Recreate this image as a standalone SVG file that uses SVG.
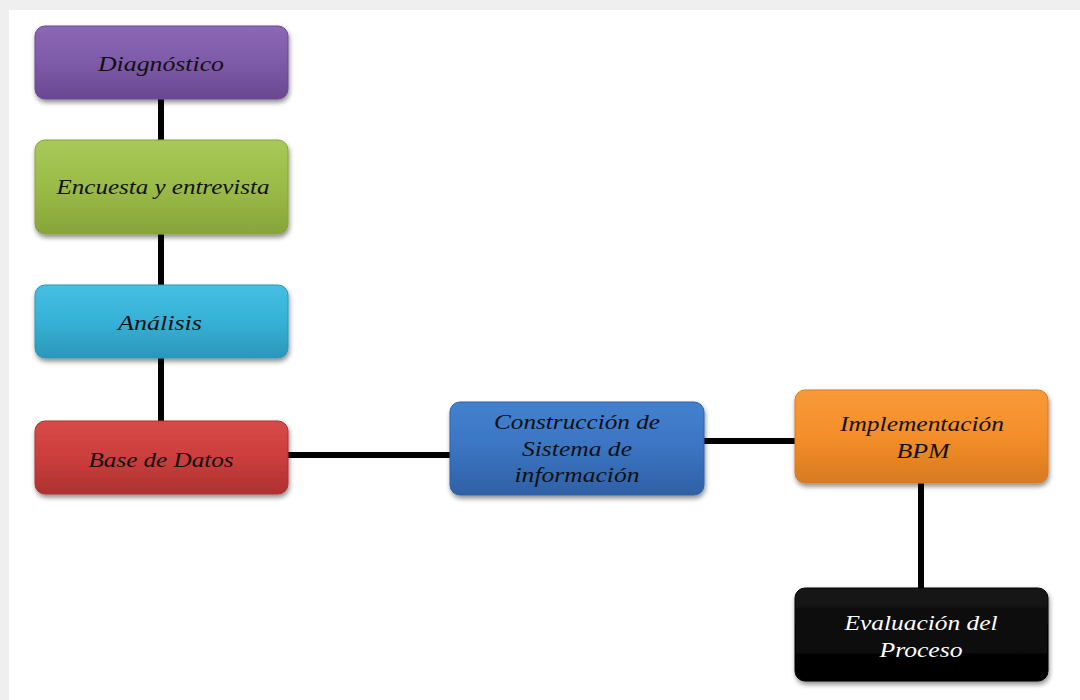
<svg xmlns="http://www.w3.org/2000/svg" width="1080" height="700" viewBox="0 0 1080 700">
<defs>
<style>
.n{stroke-width:1;filter:url(#sh)}
.t{font-family:"Liberation Serif","DejaVu Serif",serif;font-style:italic;font-size:21px;fill:#111;text-anchor:middle}
.w{fill:#fff}
.c{stroke:#000;stroke-width:6;fill:none}
</style>
<filter id="sh" x="-10%" y="-20%" width="120%" height="150%">
<feGaussianBlur in="SourceAlpha" stdDeviation="2.5"/>
<feOffset dx="1" dy="3" result="b"/>
<feComponentTransfer><feFuncA type="linear" slope="0.45"/></feComponentTransfer>
<feMerge><feMergeNode/><feMergeNode in="SourceGraphic"/></feMerge>
</filter>
<linearGradient id="gp" x1="0" y1="0" x2="0" y2="1"><stop offset="0" stop-color="#8b68b6"/><stop offset="0.5" stop-color="#7e5aa8"/><stop offset="1" stop-color="#6a4891"/></linearGradient>
<linearGradient id="gg" x1="0" y1="0" x2="0" y2="1"><stop offset="0" stop-color="#a8c95a"/><stop offset="0.5" stop-color="#9bbb47"/><stop offset="1" stop-color="#86a43a"/></linearGradient>
<linearGradient id="gc" x1="0" y1="0" x2="0" y2="1"><stop offset="0" stop-color="#45bfe2"/><stop offset="0.5" stop-color="#36b1d6"/><stop offset="1" stop-color="#2b97b9"/></linearGradient>
<linearGradient id="gr" x1="0" y1="0" x2="0" y2="1"><stop offset="0" stop-color="#d84a48"/><stop offset="0.5" stop-color="#cb3e3c"/><stop offset="1" stop-color="#ad3130"/></linearGradient>
<linearGradient id="gb" x1="0" y1="0" x2="0" y2="1"><stop offset="0" stop-color="#4381cf"/><stop offset="0.5" stop-color="#3b74c2"/><stop offset="1" stop-color="#2f60a5"/></linearGradient>
<linearGradient id="go" x1="0" y1="0" x2="0" y2="1"><stop offset="0" stop-color="#f89a38"/><stop offset="0.5" stop-color="#f48e2a"/><stop offset="1" stop-color="#d87a1f"/></linearGradient>
<linearGradient id="gk" x1="0" y1="0" x2="0" y2="1"><stop offset="0" stop-color="#161616"/><stop offset="1" stop-color="#000"/></linearGradient>
</defs>
<rect x="0" y="0" width="1080" height="700" fill="#efefef"/>
<rect x="9" y="10" width="1071" height="690" fill="#fff"/>
<g id="connectors">
<line class="c" x1="161" y1="99" x2="161" y2="140"/>
<line class="c" x1="161" y1="234" x2="161" y2="285"/>
<line class="c" x1="161" y1="358" x2="161" y2="421"/>
<line class="c" x1="288" y1="455" x2="450" y2="455"/>
<line class="c" x1="704" y1="441" x2="795" y2="441"/>
<line class="c" x1="921" y1="483" x2="921" y2="588"/>
</g>
<g id="diagnostico">
<rect class="n" x="35" y="26" width="253" height="73" rx="10" fill="url(#gp)" stroke="#6a4891"/>
<text class="t" x="161" y="71" textLength="126" lengthAdjust="spacingAndGlyphs">Diagnóstico</text>
</g>
<g id="encuesta">
<rect class="n" x="35" y="140" width="253" height="94" rx="10" fill="url(#gg)" stroke="#86a43a"/>
<text class="t" x="163" y="194" textLength="213" lengthAdjust="spacingAndGlyphs">Encuesta y entrevista</text>
</g>
<g id="analisis">
<rect class="n" x="35" y="285" width="253" height="73" rx="10" fill="url(#gc)" stroke="#2b97b9"/>
<text class="t" x="160" y="330" textLength="84" lengthAdjust="spacingAndGlyphs">Análisis</text>
</g>
<g id="base">
<rect class="n" x="35" y="421" width="253" height="73" rx="10" fill="url(#gr)" stroke="#ad3130"/>
<text class="t" x="161" y="467" textLength="145" lengthAdjust="spacingAndGlyphs">Base de Datos</text>
</g>
<g id="construccion">
<rect class="n" x="450" y="402" width="254" height="93" rx="10" fill="url(#gb)" stroke="#2f60a5"/>
<text class="t" x="577" y="429" textLength="166" lengthAdjust="spacingAndGlyphs">Construcción de</text>
<text class="t" x="577" y="456" textLength="110" lengthAdjust="spacingAndGlyphs">Sistema de</text>
<text class="t" x="577" y="482" textLength="125" lengthAdjust="spacingAndGlyphs">información</text>
</g>
<g id="implementacion">
<rect class="n" x="795" y="390" width="253" height="93" rx="10" fill="url(#go)" stroke="#d87a1f"/>
<text class="t" x="922" y="431" textLength="164" lengthAdjust="spacingAndGlyphs">Implementación</text>
<text class="t" x="923" y="458" textLength="53" lengthAdjust="spacingAndGlyphs">BPM</text>
</g>
<g id="evaluacion">
<rect class="n" x="795" y="588" width="253" height="93" rx="10" fill="url(#gk)" stroke="#000"/>
<text class="t w" x="921" y="630" textLength="153" lengthAdjust="spacingAndGlyphs">Evaluación del</text>
<text class="t w" x="921" y="657" textLength="83" lengthAdjust="spacingAndGlyphs">Proceso</text>
</g>
</svg>
